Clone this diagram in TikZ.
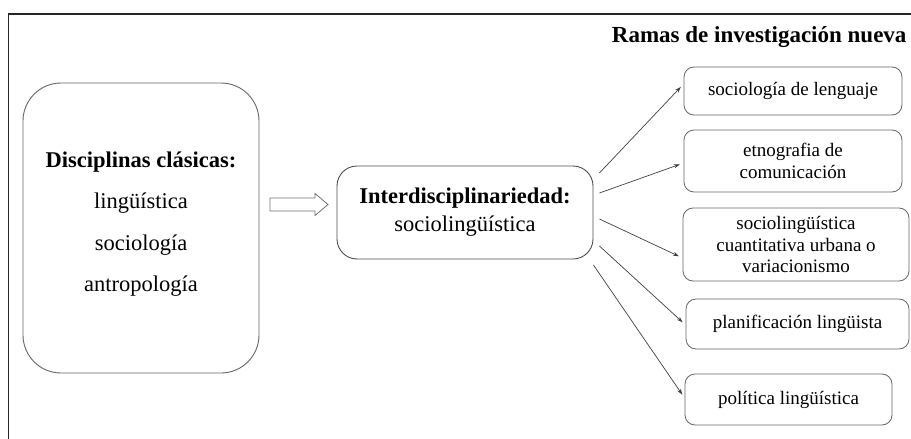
\documentclass[tikz,border=0pt]{standalone}
\usepackage{fontspec}
\setmainfont{Liberation Serif}
\usetikzlibrary{arrows.meta,calc}

\tikzset{
  frameline/.style={line width=1.6pt, black!85},
  bigbox/.style={draw=black!60, line width=0.9pt, rounded corners=38pt, inner sep=0pt},
  midbox/.style={draw=black!70, line width=0.9pt, rounded corners=20pt, align=center,
    font=\fontsize{22.5}{28}\selectfont},
  branch/.style={draw=black!60, line width=0.8pt, rounded corners=10pt, align=center,
    inner sep=0pt, font=\fontsize{19}{21.5}\selectfont},
  hollow/.style={draw=black!55, line width=0.8pt, fill=white, line join=miter},
  link/.style={draw=black!75, line width=0.7pt, -{Stealth[length=6pt,width=4pt]}, shorten >=4pt},
}

\begin{document}
\begin{tikzpicture}[x=1pt, y=-1pt]
  \useasboundingbox (0,0) rectangle (911,439);

  % outer frame (open at right and bottom)
  \draw[frameline] (8.5,439) -- (8.5,14) -- (911,14);

  % heading of the branches column
  \node[font=\fontsize{23}{26}\selectfont\bfseries, anchor=east] (title) at (910,37)
    {Ramas de investigación nueva};

  % classical disciplines
  \node[bigbox, minimum width=236pt, minimum height=290pt] (classic) at (141,228) {};
  \node[align=center, font=\fontsize{22.5}{41.5}\selectfont] (classictext) at (141,224)
    {\textbf{Disciplinas clásicas:}\\lingüística\\sociología\\antropología};

  % interdisciplinary node
  \node[midbox, minimum width=256pt, minimum height=93pt] (inter) at (465,212.5)
    {\textbf{Interdisciplinariedad:}\\sociolingüística};

  % hollow block arrow between them
  \coordinate (flow) at (270,204.5);
  \draw[hollow] (flow) ++(0,-6.5) -- ++(45,0) -- ++(0,-4.5) -- ++(13,11)
    -- ++(-13,11) -- ++(0,-4.5) -- ++(-45,0) -- cycle;

  % new research branches
  \node[branch, minimum width=218pt, minimum height=48pt] (b1) at (793,91)
    {sociología de lenguaje};
  \node[branch, minimum width=218pt, minimum height=62pt] (b2) at (793,161)
    {etnografia de\\comunicación};
  \node[branch, minimum width=226pt, minimum height=73pt] (b3) at (796,244.5)
    {sociolingüística\\cuantitativa urbana o\\variacionismo};
  \node[branch, minimum width=223pt, minimum height=50pt] (b4) at (797.5,324)
    {planificación lingüista};
  \node[branch, minimum width=207pt, minimum height=51pt] (b5) at (788.5,399.5)
    {política lingüística};

  % start points just right of the interdisciplinary box
  \coordinate (s1) at ($(inter.east)+(6,-39.5)$);
  \coordinate (s2) at ($(inter.east)+(6,-19.5)$);
  \coordinate (s3) at ($(inter.east)+(6,6.5)$);
  \coordinate (s4) at ($(inter.east)+(6,33.5)$);
  \coordinate (s5) at ($(inter.east)+(0,52.5)$);

  \draw[link] (s1) -- ($(b1.west)+(0,-7)$);
  \draw[link] (s2) -- ($(b2.west)+(0,2)$);
  \draw[link] (s3) -- ($(b3.west)+(0,13.5)$);
  \draw[link] (s4) -- ($(b4.west)+(0,1)$);
  \draw[link] (s5) -- ($(b5.west)+(0,-1.5)$);
\end{tikzpicture}
\end{document}
